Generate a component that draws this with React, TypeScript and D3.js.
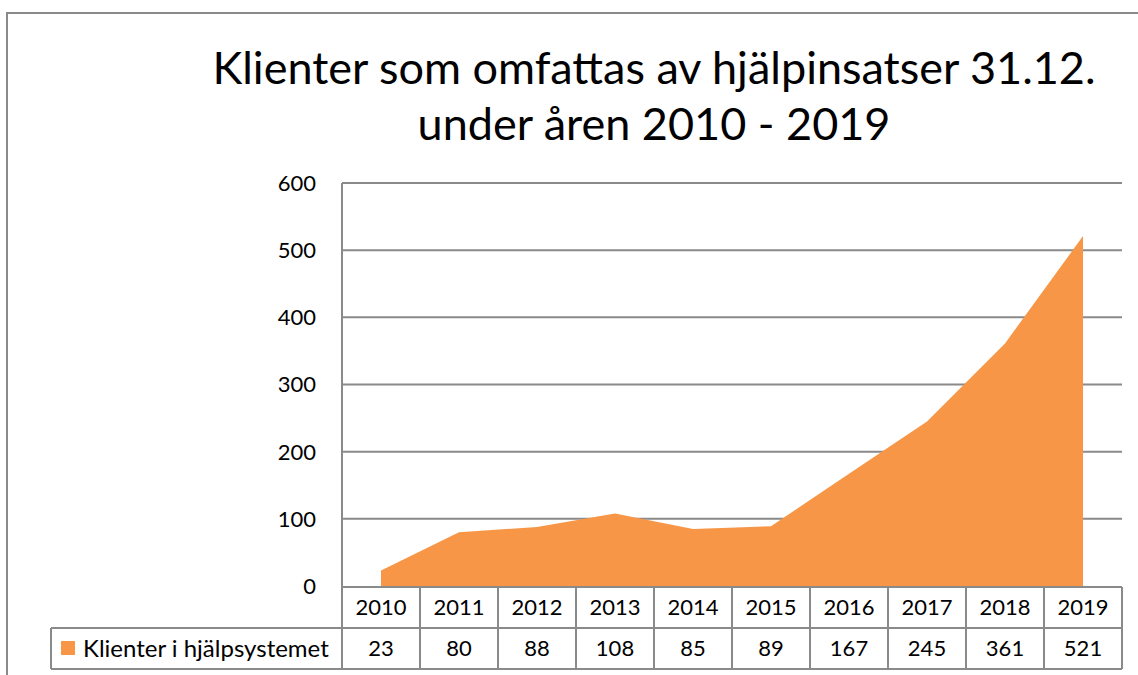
import React from "react";
import * as d3 from "d3";

const years = ["2010", "2011", "2012", "2013", "2014", "2015", "2016", "2017", "2018", "2019"];
const values = [23, 80, 88, 108, 85, 89, 167, 245, 361, 521];
const yTicks = [0, 100, 200, 300, 400, 500, 600];
const seriesName = "Klienter i hjälpsystemet";
const titleLines = ["Klienter som omfattas av hjälpinsatser 31.12.", "under åren 2010 - 2019"];

const W = 1138;
const H = 675;
const FONT = "Lato, 'Open Sans', sans-serif";
const GRID = "#8a8a8a";
const ORANGE = "#F79646";

export default function App() {
  if (typeof document !== "undefined") document.body.style.margin = "0";
  const left = 342;
  const right = 1122;
  const top = 183;
  const bottom = 586;
  const x = d3.scaleBand<string>().domain(years).range([left, right]);
  const y = d3.scaleLinear().domain([0, 600]).range([bottom, top]);
  const cx = (d: string) => (x(d) as number) + x.bandwidth() / 2;
  const area = d3
    .area<number>()
    .x((_, i) => cx(years[i]))
    .y0(y(0))
    .y1((d) => y(d));
  const row1Top = 587;
  const row1Bot = 628;
  const row2Bot = 669;
  const legLeft = 51;
  return (
    <svg width={W} height={H} style={{ display: "block" }} fontFamily={FONT}>
      <rect x={0} y={0} width={W} height={H} fill="#fff" />
      <rect x={7} y={13} width={1300} height={800} fill="none" stroke={GRID} strokeWidth={2} />
      {titleLines.map((t, i) => (
        <text key={i} x={654} y={84 + i * 56} textAnchor="middle" fontSize={45} fill="#000">
          {t}
        </text>
      ))}
      {yTicks.map((t) => (
        <g key={t}>
          {t > 0 && <line x1={left} x2={right} y1={y(t)} y2={y(t)} stroke={GRID} strokeWidth={2} />}
          <text x={316} y={y(t)} dy="0.36em" textAnchor="end" fontSize={22} fill="#000">
            {t}
          </text>
        </g>
      ))}
      <path d={area(values) || ""} fill={ORANGE} />
      <line x1={left} x2={left} y1={top} y2={row2Bot} stroke={GRID} strokeWidth={2} />
      <line x1={left} x2={right} y1={row1Top} y2={row1Top} stroke={GRID} strokeWidth={2} />
      <line x1={legLeft} x2={right} y1={row1Bot} y2={row1Bot} stroke={GRID} strokeWidth={2} />
      <line x1={legLeft} x2={right} y1={row2Bot} y2={row2Bot} stroke={GRID} strokeWidth={2} />
      <line x1={legLeft} x2={legLeft} y1={row1Bot} y2={row2Bot} stroke={GRID} strokeWidth={2} />
      {years.map((yr, i) => (
        <g key={yr}>
          <line
            x1={(x(yr) as number) + x.bandwidth()}
            x2={(x(yr) as number) + x.bandwidth()}
            y1={row1Top}
            y2={row2Bot}
            stroke={GRID}
            strokeWidth={2}
          />
          <text x={cx(yr)} y={(row1Top + row1Bot) / 2} dy="0.36em" textAnchor="middle" fontSize={22} fill="#000">
            {yr}
          </text>
          <text x={cx(yr)} y={(row1Bot + row2Bot) / 2} dy="0.36em" textAnchor="middle" fontSize={22} fill="#000">
            {values[i]}
          </text>
        </g>
      ))}
      <rect x={61} y={641} width={14} height={14} fill={ORANGE} />
      <text x={83} y={(row1Bot + row2Bot) / 2} dy="0.36em" fontSize={24} fill="#000">
        {seriesName}
      </text>
    </svg>
  );
}
